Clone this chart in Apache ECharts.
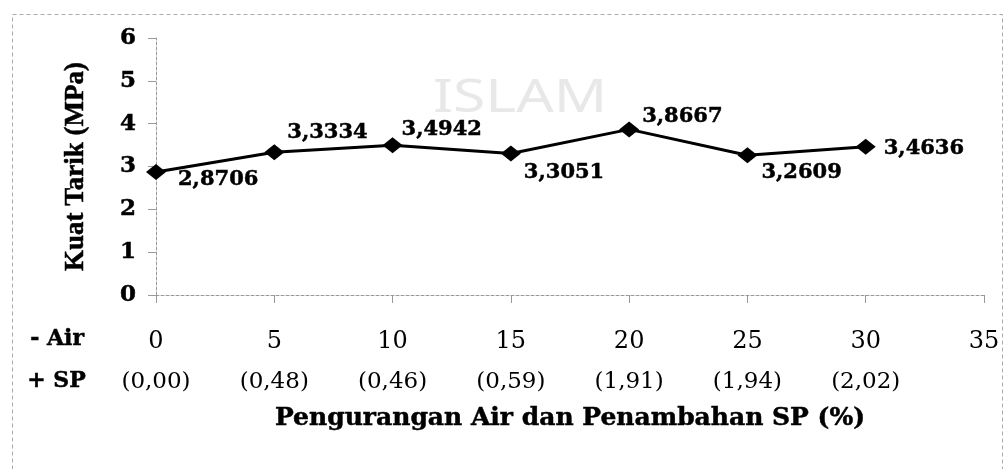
<!DOCTYPE html>
<html>
<head>
<meta charset="utf-8">
<script src="https://cdn.jsdelivr.net/npm/echarts@6/dist/echarts.min.js"></script>
<style>
html,body{margin:0;padding:0;background:#fff;}
#chart{width:1005px;height:469px;}
</style>
</head>
<body>
<div id="chart"></div>
<script>
// ---- data ----
const waterReduction = [0, 5, 10, 15, 20, 25, 30];          // - Air (%)
const spAddition = ['(0,00)', '(0,48)', '(0,46)', '(0,59)', '(1,91)', '(1,94)', '(2,02)']; // + SP (%)
const tensileStrength = [2.8706, 3.3334, 3.4942, 3.3051, 3.8667, 3.2609, 3.4636]; // Kuat Tarik (MPa)
const xTitle = 'Pengurangan Air dan Penambahan SP (%)';
const yTitle = 'Kuat Tarik (MPa)';

// ---- label placement (style only) ----
const labelOffsets = [[22, 8], [13, -20], [9, -16], [13, 19], [13, -13], [14, 17], [18, 2]];

const serif = 'DejaVu Serif';
const heavy = { textBorderColor: '#000', textBorderWidth: 0.5 };
const chart = echarts.init(document.getElementById('chart'));

const seriesData = tensileStrength.map((v, i) => ({
  value: [waterReduction[i], v],
  label: { offset: labelOffsets[i] }
}));

chart.setOption({
  animation: false,
  backgroundColor: '#fff',
  grid: { left: 156, right: 21, top: 38, bottom: 174, containLabel: false },
  xAxis: {
    type: 'value', min: 0, max: 35, interval: 5,
    name: xTitle, nameLocation: 'middle', nameGap: 111,
    nameTextStyle: Object.assign({ fontFamily: serif, fontWeight: 'bold', fontSize: 25, color: '#000' }, heavy),
    axisLine: { show: true, lineStyle: { color: '#999', width: 1, type: [3, 2] } },
    axisTick: { show: true, length: 8, inside: false, lineStyle: { color: '#999', width: 1 } },
    splitLine: { show: false },
    axisLabel: {
      margin: 27,
      formatter: function (val) {
        const idx = waterReduction.indexOf(val);
        const sp = idx >= 0 ? spAddition[idx] : '';
        return '{a|' + val + '}\n{b|' + sp + '}';
      },
      rich: {
        a: { fontFamily: serif, fontSize: 24, color: '#000', lineHeight: 40 },
        b: { fontFamily: serif, fontSize: 23, color: '#000', lineHeight: 40 }
      }
    }
  },
  yAxis: {
    type: 'value', min: 0, max: 6, interval: 1,
    name: yTitle, nameLocation: 'middle', nameGap: 66, nameRotate: 90,
    nameTextStyle: Object.assign({ fontFamily: 'Liberation Serif', fontWeight: 'bold', fontSize: 27, color: '#000' }, heavy),
    axisLine: { show: true, lineStyle: { color: '#999', width: 1, type: [3, 2] } },
    axisTick: { show: true, length: 8, inside: false, lineStyle: { color: '#999', width: 1 } },
    splitLine: { show: false },
    axisLabel: Object.assign({ margin: 20, fontFamily: serif, fontWeight: 'bold', fontSize: 23, color: '#000' }, heavy)
  },
  series: [{
    type: 'line',
    data: seriesData,
    symbol: 'diamond',
    symbolSize: [20, 16],
    z: 3,
    itemStyle: { color: '#000' },
    lineStyle: { color: '#000', width: 3 },
    label: Object.assign({
      show: true,
      position: 'inside',
      align: 'left',
      verticalAlign: 'middle',
      fontFamily: serif, fontWeight: 'bold', fontSize: 21, color: '#000',
      formatter: p => p.value[1].toFixed(4).replace('.', ',')
    }, heavy)
  }],
  graphic: [
    { type: 'text', x: 433, y: 76, scaleX: 1.28, z: -10, silent: true,
      style: { text: 'ISLAM', font: '46px "Noto Sans"', fill: '#e8e8e8', textVerticalAlign: 'top' } },
    { type: 'rect', left: 10, top: 12, shape: { width: 990, height: 480 },
      style: { fill: 'none', stroke: '#aaa', lineWidth: 1, lineDash: [4, 3] }, silent: true },
    { type: 'text', left: 30, top: 328, style: { text: '- Air', font: 'bold 22px "DejaVu Serif"', fill: '#000', stroke: '#000', lineWidth: 0.5 } },
    { type: 'text', left: 27, top: 370, style: { text: '+ SP', font: 'bold 22px "DejaVu Serif"', fill: '#000', stroke: '#000', lineWidth: 0.5 } }
  ]
});
</script>
</body>
</html>
